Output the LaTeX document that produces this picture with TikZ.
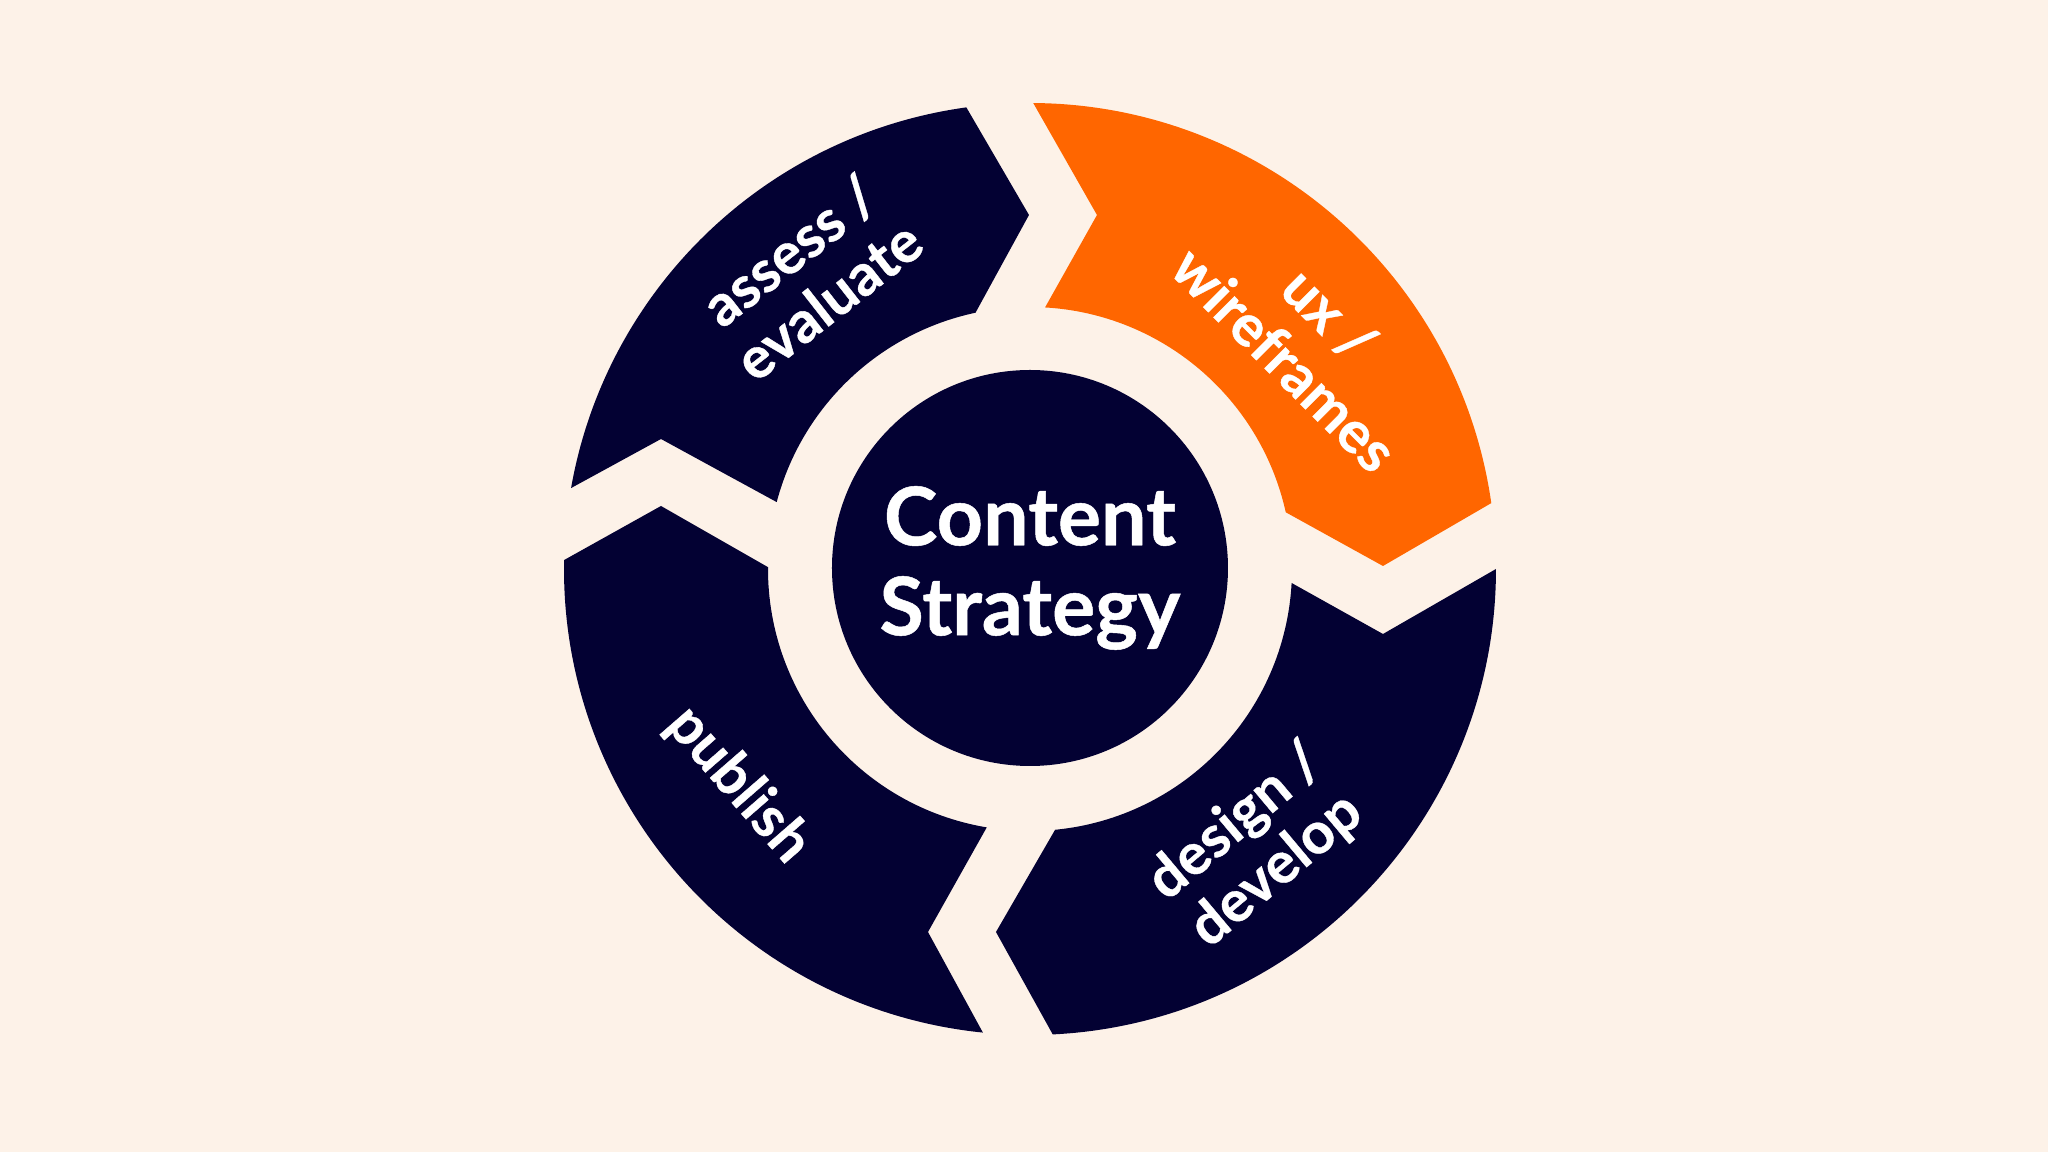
\documentclass[tikz,border=0pt]{standalone}
\usepackage{fontspec}
\setmainfont{Lato}
\newfontfamily\heavyfont{Lato}[BoldFeatures={FakeBold=0.6}]
\definecolor{wheelnavy}{RGB}{3,1,51}
\definecolor{wheelorange}{RGB}{255,102,0}
\definecolor{wheelcream}{RGB}{253,242,232}
\tikzset{
	hub/.style={circle, fill=wheelnavy, minimum size=3.96cm, inner sep=0pt, text=white, align=center, font=\heavyfont\bfseries\fontsize{23}{25.6}\selectfont},
	lbl/.style={text=white, align=center, inner sep=0pt, font=\heavyfont\bfseries\fontsize{16.5}{18}\selectfont},
}
\begin{document}
\begin{tikzpicture}[scale=1, line join=miter]
	\def\Rout{4.66} \def\Rin{2.62} % radii of the ring
	\useasboundingbox (-10.30,-5.83) rectangle (10.18,5.69);
	\fill[wheelcream] (-10.30,-5.83) rectangle (10.18,5.69);
	% assess / evaluate
	\fill[wheelnavy] (170:\Rout) arc[start angle=170, end angle=97.85, radius=\Rout] -- (-0.01,3.54)
		-- (102:\Rin) arc[start angle=102, end angle=165.2, radius=\Rin] -- (-3.69,1.30) -- cycle;
	% ux / wireframes
	\fill[wheelorange] (89.6:\Rout) arc[start angle=89.6, end angle=8.13, radius=\Rout] -- (3.53,0.03)
		-- (12.5:\Rin) arc[start angle=12.5, end angle=86.7, radius=\Rin] -- (0.67,3.54) -- cycle;
	% design / develop
	\fill[wheelnavy] (0:\Rout) arc[start angle=0, end angle=-87.2, radius=\Rout] -- (-0.34,-3.63)
		-- (-84.5:\Rin) arc[start angle=-84.5, end angle=-3.06, radius=\Rin] -- (3.53,-0.65) -- cycle;
	% publish
	\fill[wheelnavy] (264.2:\Rout) arc[start angle=264.2, end angle=178.9, radius=\Rout] -- (-3.69,0.63)
		-- (179.6:\Rin) arc[start angle=179.6, end angle=260.5, radius=\Rin] -- (-1.02,-3.63) -- cycle;
	\node[hub] (hub) at (0,0.01) {Content\\Strategy};
	\node[lbl, rotate=38] (assess) at (127:3.68) {assess /\\evaluate};
	\node[lbl, rotate=-45] (ux) at (40:3.62) {ux /\\wireframes};
	\node[lbl, rotate=40] (design) at (-50.8:3.58) {design /\\develop};
	\node[lbl, rotate=-49] (publish) at (216.5:3.63) {publish};
\end{tikzpicture}
\end{document}
